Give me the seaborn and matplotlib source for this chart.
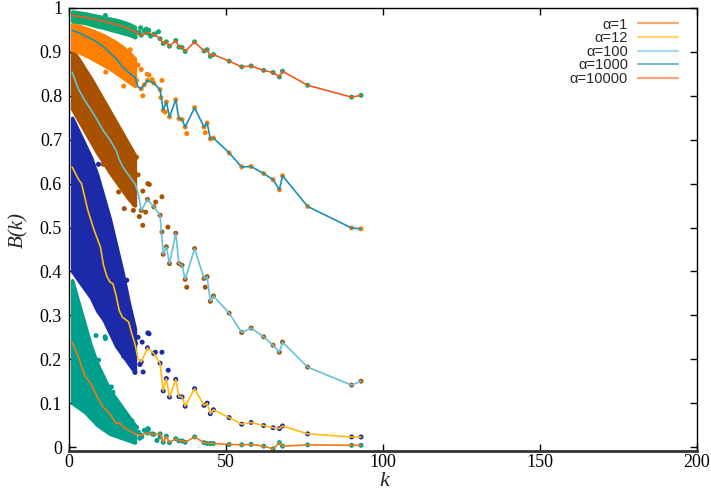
import numpy as np
import pandas as pd
import matplotlib
matplotlib.use("Agg")
import matplotlib.pyplot as plt
import seaborn as sns
from matplotlib.lines import Line2D

# series labels
labels = ["α=1", "α=12", "α=100", "α=1000", "α=10000"]

# k values of the sparse tail (shared by all series)
tail_k = [23, 25, 27, 29, 30, 31, 32, 34, 35, 36, 37, 40, 43, 44, 45, 46,
          51, 55, 58, 62, 65, 67, 68, 76, 90, 93]

# mean curve, dense part (k, B) and tail B for each alpha
head_k_1 = [1, 3, 5, 7, 9, 11, 12, 13, 15, 16, 18, 21, 22]
head_b_1 = [0.239, 0.205, 0.163, 0.144, 0.114, 0.090, 0.084, 0.076, 0.053, 0.055, 0.042, 0.030, 0.028]
tail_b_1 = [0.027, 0.032, 0.029, 0.030, 0.011, 0.025, 0.010, 0.019, 0.014, 0.014, 0.011, 0.023, 0.010,
            0.008, 0.008, 0.008, 0.006, 0.005, 0.006, 0.002, -0.004, 0.010, 0.002, 0.005, 0.004, 0.004]

head_k_12 = [1, 3, 4, 6, 8, 10, 11, 12, 13, 14, 15, 16, 17, 19, 20, 21, 22]
head_b_12 = [0.638, 0.610, 0.600, 0.539, 0.494, 0.456, 0.414, 0.390, 0.376, 0.372, 0.345, 0.311,
             0.296, 0.285, 0.258, 0.235, 0.201]
tail_b_12 = [0.194, 0.226, 0.213, 0.191, 0.128, 0.156, 0.114, 0.154, 0.115, 0.114, 0.093, 0.133, 0.095,
             0.100, 0.076, 0.085, 0.067, 0.052, 0.056, 0.049, 0.044, 0.042, 0.048, 0.030, 0.023, 0.023]

head_k_100 = [1, 3, 5, 7, 9, 11, 13, 15, 16, 17, 19, 21, 22]
head_b_100 = [0.854, 0.815, 0.790, 0.768, 0.745, 0.720, 0.700, 0.676, 0.655, 0.640, 0.619, 0.600, 0.580]
tail_b_100 = [0.539, 0.564, 0.547, 0.528, 0.439, 0.456, 0.418, 0.487, 0.418, 0.414, 0.382, 0.452, 0.384,
              0.388, 0.332, 0.344, 0.305, 0.261, 0.271, 0.251, 0.232, 0.216, 0.239, 0.182, 0.141, 0.150]

head_k_1000 = [1, 3, 5, 7, 9, 11, 13, 15, 17, 19, 20, 21, 22]
head_b_1000 = [0.949, 0.944, 0.937, 0.930, 0.922, 0.912, 0.898, 0.885, 0.866, 0.853, 0.847, 0.843, 0.820]
tail_b_1000 = [0.816, 0.835, 0.829, 0.814, 0.767, 0.786, 0.752, 0.791, 0.748, 0.746, 0.729, 0.773, 0.729,
               0.738, 0.702, 0.704, 0.670, 0.638, 0.639, 0.623, 0.609, 0.586, 0.618, 0.548, 0.499, 0.497]

head_k_10000 = [1, 3, 5, 7, 9, 11, 13, 15, 17, 19, 20, 21, 22]
head_b_10000 = [0.983, 0.981, 0.979, 0.976, 0.973, 0.970, 0.966, 0.962, 0.958, 0.953, 0.949, 0.947, 0.940]
tail_b_10000 = [0.938, 0.943, 0.940, 0.930, 0.919, 0.923, 0.913, 0.926, 0.911, 0.910, 0.901, 0.923, 0.902,
                0.905, 0.890, 0.894, 0.879, 0.866, 0.868, 0.858, 0.853, 0.843, 0.856, 0.824, 0.797, 0.801]

# dense clouds of realisations: upper / lower envelope
cloud_k = [1, 3, 5, 7, 9, 11, 13, 15, 17, 19, 21]
cloud_top_1 = [0.38, 0.33, 0.28, 0.23, 0.19, 0.16, 0.13, 0.11, 0.09, 0.07, 0.05]
cloud_bot_1 = [0.10, 0.09, 0.08, 0.065, 0.05, 0.04, 0.03, 0.025, 0.02, 0.015, 0.01]
cloud_top_12 = [0.75, 0.72, 0.69, 0.66, 0.62, 0.57, 0.52, 0.46, 0.40, 0.33, 0.27]
cloud_bot_12 = [0.40, 0.38, 0.36, 0.34, 0.31, 0.29, 0.26, 0.23, 0.21, 0.19, 0.17]
cloud_top_100 = [0.905, 0.885, 0.862, 0.840, 0.815, 0.790, 0.765, 0.740, 0.715, 0.690, 0.665]
cloud_bot_100 = [0.770, 0.745, 0.720, 0.695, 0.670, 0.648, 0.625, 0.605, 0.585, 0.565, 0.550]
cloud_top_1000 = [0.963, 0.960, 0.955, 0.950, 0.944, 0.938, 0.930, 0.922, 0.912, 0.900, 0.885]
cloud_bot_1000 = [0.905, 0.900, 0.893, 0.886, 0.878, 0.870, 0.862, 0.852, 0.842, 0.832, 0.822]
cloud_top_10000 = [0.992, 0.990, 0.988, 0.985, 0.982, 0.979, 0.976, 0.973, 0.969, 0.964, 0.957]
cloud_bot_10000 = [0.970, 0.968, 0.966, 0.962, 0.958, 0.955, 0.951, 0.947, 0.943, 0.939, 0.934]

# scattered single realisations outside the dense clouds
out_k_1 = [8.6, 11.5, 11.6, 9.4, 13.5, 14.0, 15.0, 16.5, 18.6, 19.4, 25.1, 25.3, 22.1, 23.2, 29.0, 15.8,
           12.5, 21.5, 22.5, 24.0, 26.5, 28.0, 20.0]
out_b_1 = [0.254, 0.251, 0.247, 0.198, 0.137, 0.125, 0.087, 0.084, 0.065, 0.042, 0.042, 0.040, 0.034,
           0.023, 0.023, 0.027, 0.046, 0.045, 0.020, 0.038, 0.030, 0.015, 0.060]
out_k_12 = [25.1, 25.5, 23.3, 29.6, 27.5, 22.6, 23.6, 31.6, 17.4, 20.5, 20.6, 18.8, 15.6, 13.7, 11.1,
            16.3, 21.2, 13.4, 14.2, 10.3, 9.4, 8.4, 17.4, 18.4, 22.0, 19.5, 21.0]
out_b_12 = [0.260, 0.258, 0.239, 0.216, 0.216, 0.188, 0.171, 0.175, 0.207, 0.209, 0.199, 0.224, 0.239,
            0.285, 0.300, 0.254, 0.236, 0.500, 0.472, 0.524, 0.644, 0.577, 0.348, 0.380, 0.250, 0.300, 0.170]
out_k_100 = [16.6, 18.4, 20.0, 25.1, 25.6, 23.5, 15.8, 19.5, 20.6, 17.6, 20.5, 29.6, 27.6, 24.4, 22.4,
             23.5, 29.6, 31.5, 37.5, 43.4, 10.9, 12.6, 14.7, 22.0, 21.5]
out_b_100 = [0.712, 0.680, 0.634, 0.600, 0.598, 0.583, 0.581, 0.570, 0.553, 0.543, 0.539, 0.570, 0.558,
             0.535, 0.525, 0.505, 0.490, 0.501, 0.364, 0.364, 0.644, 0.642, 0.629, 0.620, 0.660]
out_k_1000 = [13.8, 11.7, 17.4, 24.9, 25.5, 29.6, 23.5, 29.3, 30.6, 37.5, 43.4, 26.5, 22.0, 23.0, 21.5,
              19.5, 24.0]
out_b_1000 = [0.923, 0.854, 0.822, 0.849, 0.847, 0.835, 0.800, 0.796, 0.763, 0.714, 0.716, 0.837, 0.870,
              0.860, 0.835, 0.905, 0.825]
out_k_10000 = [11.6, 22.3, 23.9, 25.4, 27.4, 21.1, 24.6, 26.0, 22.8, 28.5]
out_b_10000 = [0.983, 0.945, 0.948, 0.949, 0.941, 0.934, 0.952, 0.936, 0.955, 0.946]

dot_colors = ["#00a08c", "#1a2aa8", "#a85200", "#ff8000", "#10a870"]
line_colors = ["#f07818", "#ffbb10", "#66c2da", "#1a90b0", "#f05a1e"]
legend_colors = ["#f7aa6a", "#ffd670", "#a9d9e8", "#7bbccc", "#f7a27a"]

head_k = [head_k_1, head_k_12, head_k_100, head_k_1000, head_k_10000]
head_b = [head_b_1, head_b_12, head_b_100, head_b_1000, head_b_10000]
tail_b = [tail_b_1, tail_b_12, tail_b_100, tail_b_1000, tail_b_10000]
cloud_top = [cloud_top_1, cloud_top_12, cloud_top_100, cloud_top_1000, cloud_top_10000]
cloud_bot = [cloud_bot_1, cloud_bot_12, cloud_bot_100, cloud_bot_1000, cloud_bot_10000]
out_k = [out_k_1, out_k_12, out_k_100, out_k_1000, out_k_10000]
out_b = [out_b_1, out_b_12, out_b_100, out_b_1000, out_b_10000]

# long tables for seaborn
line_rows = []
dot_rows = []
for i, lab in enumerate(labels):
    for k, b in zip(head_k[i] + tail_k, head_b[i] + tail_b[i]):
        line_rows.append({"k": k, "B": b, "alpha": lab})
    for k, b in zip(tail_k + out_k[i], tail_b[i] + out_b[i]):
        dot_rows.append({"k": k, "B": b, "alpha": lab})
lines_df = pd.DataFrame(line_rows)
dots_df = pd.DataFrame(dot_rows)

sns.set_style("ticks")
fig = plt.figure(figsize=(7.11, 4.91), dpi=100)
ax = fig.add_axes([69 / 711, 1 - 451 / 491, 628 / 711, 443 / 491])

#clouds first, ragged edge drawn with the same colour
for i in range(len(labels)):
    ax.fill_between(cloud_k, cloud_bot[i], cloud_top[i], color=dot_colors[i], linewidth=2.5,
                    edgecolor=dot_colors[i], zorder=1)
sns.scatterplot(data=dots_df, x="k", y="B", hue="alpha", palette=dot_colors, s=13,
                linewidth=0, legend=False, ax=ax, zorder=2)
sns.lineplot(data=lines_df, x="k", y="B", hue="alpha", palette=line_colors, linewidth=1.2,
             sort=False, estimator=None, legend=False, ax=ax, zorder=3)

ax.set_xlim(0, 200)
ax.set_ylim(-0.009, 1.0)
ax.set_xticks([0, 50, 100, 150, 200])
ax.set_yticks(np.arange(0, 1.01, 0.1))
ax.set_yticklabels(["0", "0.1", "0.2", "0.3", "0.4", "0.5", "0.6", "0.7", "0.8", "0.9", "1"])
ax.tick_params(direction="in", length=5, width=1, top=True, right=True, colors="black")
ax.tick_params(axis="y", pad=5)
ax.tick_params(axis="x", pad=2)
for t in ax.get_xticklabels() + ax.get_yticklabels():
    t.set_family("Liberation Serif")
    t.set_fontsize(13)
for side in ["left", "right", "top"]:
    ax.spines[side].set_linewidth(1.0)
    ax.spines[side].set_color("black")
ax.spines["bottom"].set_linewidth(2.0)
ax.spines["bottom"].set_color("#333333")

# axis titles
ax.set_xlabel("")
fig.text(384 / 711, 1 - 486 / 491, "k", family="Liberation Serif", style="italic", fontsize=16,
         ha="center", va="baseline")
ax.set_ylabel("B(k)", family="Liberation Serif", style="italic", fontsize=15, labelpad=8)

handles = [Line2D([], [], color=c, linewidth=1.6) for c in legend_colors]
ax.legend(handles, labels, loc="upper right", bbox_to_anchor=(0.99, 1.008), frameon=False,
          markerfirst=False, handlelength=2.7, handletextpad=0.7, labelspacing=-0.03,
          prop={"family": "Liberation Sans", "size": 10.5})

fig.savefig("out.png", dpi=100)
